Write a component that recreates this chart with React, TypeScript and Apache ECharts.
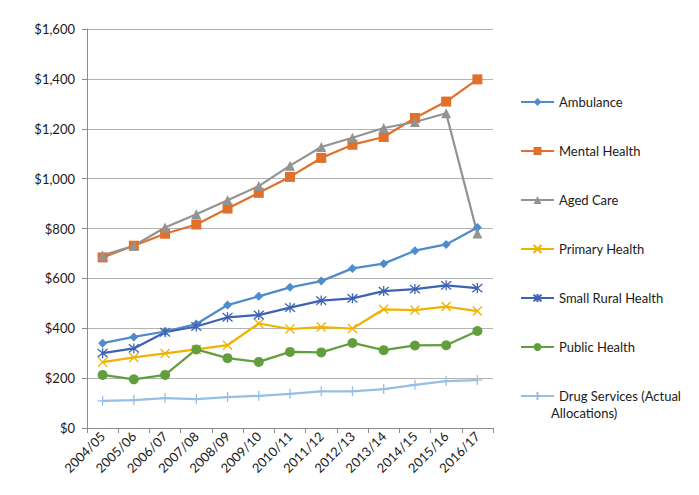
import React, { useEffect, useRef } from "react";
import * as echarts from "echarts";

const categories = ["2004/05","2005/06","2006/07","2007/08","2008/09","2009/10","2010/11","2011/12","2012/13","2013/14","2014/15","2015/16","2016/17"];
const ambulance = [340,365,387,417,493,528,564,589,640,659,711,736,804];
const mentalHealth = [684,731,779,816,880,943,1007,1083,1136,1167,1243,1309,1398];
const agedCare = [692,731,804,857,913,970,1052,1127,1164,1203,1227,1262,780];
const primaryHealth = [264,283,299,315,332,419,397,405,399,476,473,487,469];
const smallRuralHealth = [300,319,384,407,444,453,483,511,520,549,557,572,561];
const publicHealth = [213,195,213,315,280,265,305,303,341,312,331,332,389];
const drugServices = [109,112,120,116,124,129,137,147,147,156,173,188,192];
const yTicks = { min: 0, max: 1600, interval: 200 };

const FONT = "Lato";

export default function App() {
  const ref = useRef<HTMLDivElement>(null);
  useEffect(() => {
    const chart = echarts.init(ref.current!, undefined, { renderer: "svg" });
    const mk = (name: string, data: number[], color: string, symbol: string, size: number, stroke = false) => ({
      name,
      type: "line",
      data,
      symbol,
      symbolSize: size,
      showSymbol: true,
      lineStyle: { color, width: 2.25 },
      itemStyle: stroke ? { color: "transparent", borderColor: color, borderWidth: 1.3 } : { color, borderWidth: 0 },
      emphasis: { disabled: true },
    });
    const xPath = "path://M0,0L10,10M10,0L0,10";
    const starPath = "path://M0,0L10,10M10,0L0,10M5,-1L5,11";
    const plusPath = "path://M5,0L5,10M0,5L10,5";
    chart.setOption({
      animation: false,
      textStyle: { fontFamily: FONT },
      grid: { left: 87, right: 206, top: 29, bottom: 67, containLabel: false },
      legend: {
        orient: "vertical",
        left: 515,
        top: 89,
        itemWidth: 33,
        itemHeight: 10,
        itemGap: 33,
        textStyle: { fontFamily: FONT, fontSize: 13, color: "#1a1a1a", lineHeight: 16 },
        formatter: (n: string) => (n.startsWith("Drug") ? "Drug Services (Actual" : n),
        data: ["Ambulance","Mental Health","Aged Care","Primary Health","Small Rural Health","Public Health","Drug Services (Actual Allocations)"],
      },
      graphic: [
        { type: "text", left: 551, top: 406, style: { text: "Allocations)", font: `13px ${FONT}`, fill: "#1a1a1a" } },
      ],
      xAxis: {
        type: "category",
        data: categories,
        boundaryGap: true,
        axisLine: { lineStyle: { color: "#8c8c8c" } },
        axisTick: { show: true, length: 5, lineStyle: { color: "#8c8c8c" } },
        axisLabel: { rotate: 45, fontSize: 13, color: "#1a1a1a", fontFamily: FONT, margin: 6, interval: 0 },
      },
      yAxis: {
        type: "value",
        min: yTicks.min,
        max: yTicks.max,
        interval: yTicks.interval,
        axisLine: { show: true, lineStyle: { color: "#8c8c8c" } },
        axisTick: { show: true, length: 5, lineStyle: { color: "#8c8c8c" } },
        splitLine: { lineStyle: { color: "#b3b3b3", width: 1 } },
        axisLabel: {
          fontSize: 13, color: "#1a1a1a", fontFamily: FONT, margin: 12,
          formatter: (v: number) => "$" + v.toLocaleString("en-US"),
        },
      },
      series: [
        mk("Ambulance", ambulance, "#4f8ccb", "diamond", 9),
        mk("Mental Health", mentalHealth, "#e0702a", "rect", 10),
        mk("Aged Care", agedCare, "#939393", "triangle", 10),
        mk("Primary Health", primaryHealth, "#efb300", xPath, 9, true),
        mk("Small Rural Health", smallRuralHealth, "#3d63b4", starPath, 10, true),
        mk("Public Health", publicHealth, "#629e3d", "circle", 10),
        mk("Drug Services (Actual Allocations)", drugServices, "#97bfe6", plusPath, 10, true),
      ],
    });
    return () => chart.dispose();
  }, []);
  return <div ref={ref} style={{ position: "absolute", left: 0, top: 0, width: 699, height: 495, background: "#fff" }} />;
}
